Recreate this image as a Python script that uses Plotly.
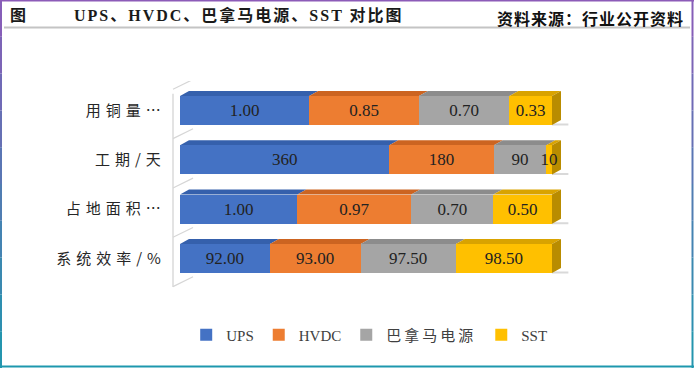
import plotly.graph_objects as go

# ---------------- data ----------------
categories = ["用铜量…", "工期/天", "占地面积…", "系统效率/%"]
series_names = ["UPS", "HVDC", "巴拿马电源", "SST"]
ups = [1.00, 360, 1.00, 92.00]
hvdc = [0.85, 180, 0.97, 93.00]
panama = [0.70, 90, 0.70, 97.50]
sst = [0.33, 10, 0.50, 98.50]
label_decimals = [2, 0, 2, 2]

# ---------------- styles ----------------
W, H = 694, 368
front_colors = ["#4472C4", "#ED7D31", "#A5A5A5", "#FFC000"]
top_colors = ["#3560AC", "#CC6421", "#8C8C8C", "#D9A300"]
side_color = "#B98C00"
text_color = "#222222"
serif = "Liberation Serif, Noto Sans CJK SC, serif"

series = [ups, hvdc, panama, sst]
n = len(categories)
ypos = [n - 1 - i for i in range(n)]  # first category at top
totals = [sum(s[i] for s in series) for i in range(n)]
pct = [[s[i] / totals[i] * 100 for i in range(n)] for s in series]

# axis geometry (pixels)
x0_px, x100_px = 180.0, 552.0
ppu = (x100_px - x0_px) / 100.0
xr = [-3.0, 106.0]
yc0_px, ystep = 258.5, 49.33
yr = [-0.7, 3.6]
bar_w = 0.59
dx = 9 / ppu
dy = 5 / ystep


def legend_name(s):
    if s.isascii():
        return s
    return f'<span style="letter-spacing:3px">{s}</span>'


fig = go.Figure()
for j, name in enumerate(series_names):
    texts = [f"{series[j][i]:.{label_decimals[i]}f}" for i in range(n)]
    fig.add_trace(go.Bar(
        y=ypos, x=pct[j], name=legend_name(name),
        orientation="h",
        marker=dict(color=front_colors[j], line=dict(width=0)),
        width=bar_w, text=texts, textposition="inside",
        insidetextanchor="middle", constraintext="none", textangle=0,
        textfont=dict(family=serif, size=17, color=text_color),
        hoverinfo="skip",
    ))

shapes = []
# left wall and diagonal grid lines
wall_x = (173 - x0_px) / ppu
shapes.append(dict(type="line", xref="x", yref="y", x0=wall_x, x1=wall_x,
                   y0=-0.58, y1=3.34, line=dict(color="#D0D0D0", width=1.2), layer="below"))
for k in range(n + 1):
    b = k - 0.57
    shapes.append(dict(type="line", xref="x", yref="y", x0=wall_x, x1=3.5,
                       y0=b, y1=b + 0.2, line=dict(color="#D6D6D6", width=1.2), layer="below"))

# 3D faces
for i in range(n):
    yc = ypos[i]
    top = yc + bar_w / 2
    bot = yc - bar_w / 2
    shapes.append(dict(type="line", xref="x", yref="y", x0=100, x1=104.4,
                       y0=bot + 0.01, y1=bot + 0.01, line=dict(color="#D9D9D9", width=2), layer="below"))
    left = 0.0
    for j in range(len(series)):
        right = left + pct[j][i]
        path = (f"M {left},{top} L {left + dx},{top + dy} L {right + dx},{top + dy} "
                f"L {right},{top} Z")
        shapes.append(dict(type="path", xref="x", yref="y", path=path,
                           fillcolor=top_colors[j], line=dict(width=0), layer="below"))
        left = right
    path = (f"M 100,{bot} L 100,{top} L {100 + dx},{top + dy} L {100 + dx},{bot + dy} Z")
    shapes.append(dict(type="path", xref="x", yref="y", path=path,
                       fillcolor=side_color, line=dict(width=0), layer="below"))

# title underline
shapes.append(dict(type="line", xref="paper", yref="paper", x0=4 / W, x1=690 / W,
                   y0=1 - 27.5 / H, y1=1 - 27.5 / H, line=dict(color="#C4C4C4", width=2)))


# frame border with purple->teal gradient
def mix(c1, c2, t):
    a = [int(c1[k:k + 2], 16) for k in (1, 3, 5)]
    b = [int(c2[k:k + 2], 16) for k in (1, 3, 5)]
    return "#" + "".join(f"{round(a[m] + (b[m] - a[m]) * t):02x}" for m in range(3))


purple, teal = "#8C5BB8", "#1E98AE"
segs = 10
for s in range(segs):
    t = (s + 0.5) / segs
    col = mix(purple, teal, t)
    ya, yb = 1 - s / segs, 1 - (s + 1) / segs
    for xx in (1 / W, 1 - 1.5 / W):
        shapes.append(dict(type="line", xref="paper", yref="paper", x0=xx, x1=xx,
                           y0=ya, y1=yb, line=dict(color=col, width=2)))
shapes.append(dict(type="line", xref="paper", yref="paper", x0=0, x1=1, y0=1 - 0.5 / H,
                   y1=1 - 0.5 / H, line=dict(color=purple, width=2)))
shapes.append(dict(type="line", xref="paper", yref="paper", x0=0, x1=1, y0=1.5 / H,
                   y1=1.5 / H, line=dict(color=teal, width=2)))

annotations = [
    dict(text="<b>图</b>", x=8 / W, y=1 - 15 / H, xref="paper", yref="paper",
         xanchor="left", yanchor="middle", showarrow=False,
         font=dict(family=serif, size=16, color="#1a1a1a")),
    dict(text='<b><span style="letter-spacing:2px">UPS、HVDC、巴拿马电源、SST 对比图</span></b>',
         x=72 / W, y=1 - 15 / H, xref="paper", yref="paper",
         xanchor="left", yanchor="middle", showarrow=False,
         font=dict(family=serif, size=16, color="#1a1a1a")),
    dict(text='<span style="letter-spacing:1px">资料来源：行业公开资料</span>',
         x=686 / W, y=1 - 18 / H, xref="paper", yref="paper",
         xanchor="right", yanchor="middle", showarrow=False,
         font=dict(family="Noto Sans CJK SC", size=16, color="#111111", weight=700)),
]

ticktext = [f'<span style="letter-spacing:5px">{c}</span>' for c in categories]

fig.update_layout(
    width=W, height=H, barmode="stack", bargap=0.4,
    margin=dict(l=0, r=0, t=0, b=0),
    paper_bgcolor="white", plot_bgcolor="white",
    showlegend=True,
    legend=dict(orientation="h", x=0.532, y=1 - 335 / H, xanchor="center", yanchor="middle",
                font=dict(family=serif, size=15, color="#404040"), itemwidth=30,
                traceorder="normal"),
    xaxis=dict(domain=[(x0_px + xr[0] * ppu) / W, (x0_px + xr[1] * ppu) / W], range=xr,
               showgrid=False, zeroline=False, showticklabels=False, showline=False, fixedrange=True),
    yaxis=dict(domain=[1 - (yc0_px - yr[0] * ystep) / H, 1 - (yc0_px - yr[1] * ystep) / H],
               range=yr, tickvals=ypos, ticktext=ticktext, showgrid=False, zeroline=False,
               showline=False, ticks="", ticklabelstandoff=2, automargin=False,
               tickfont=dict(family="Noto Sans CJK SC, serif", size=15, color="#262626")),
    shapes=shapes, annotations=annotations,
)

fig.write_html(
    "out.html",
    config={"displayModeBar": False},
    post_script="document.body.style.margin='0';document.body.style.overflow='hidden';",
)
